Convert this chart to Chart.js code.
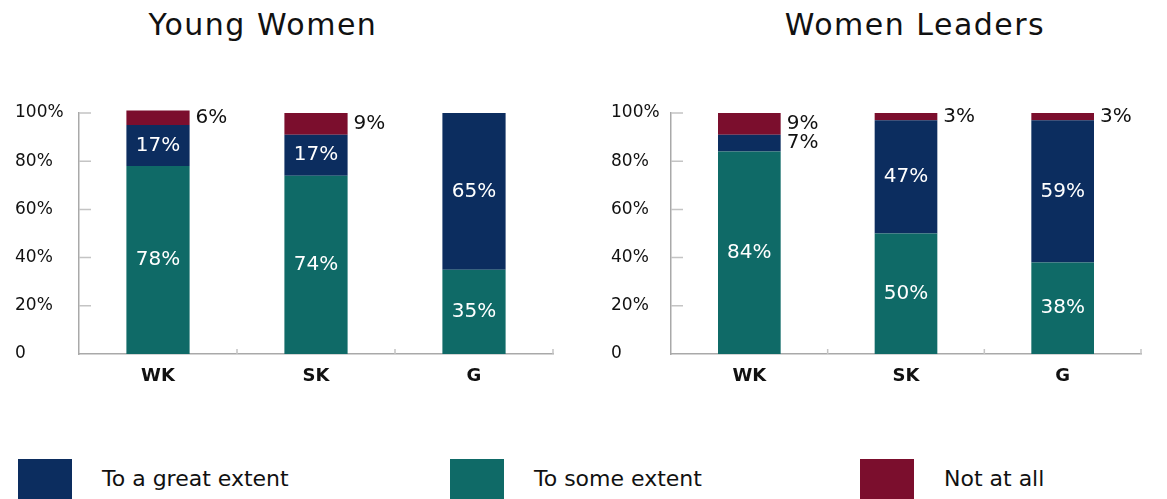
<!DOCTYPE html>
<html>
<head>
<meta charset="utf-8">
<script src="https://cdn.jsdelivr.net/npm/chart.js@4/dist/chart.umd.min.js"></script>
<style>
  html, body { margin: 0; padding: 0; background: #fff; }
  body { position: relative; width: 1167px; height: 499px; overflow: hidden;
         font-family: "DejaVu Sans", sans-serif; color: #111; }
  canvas { position: absolute; top: 0; }
  .title { position: absolute; top: 10px; font-size: 30px; line-height: 30px;
           letter-spacing: 1.5px; white-space: nowrap; transform: translateX(-50%); }
  .legend-item { position: absolute; top: 459px; height: 45px; display: flex; }
  .swatch { width: 54px; height: 45px; flex: none; }
  .legend-text { margin-left: 30px; margin-top: 9px; font-size: 22px; line-height: 22px; white-space: nowrap; }
</style>
</head>
<body>
<div class="title" style="left:263px">Young Women</div>
<div class="title" style="left:915px">Women Leaders</div>
<canvas id="young" width="580" height="420" style="left:0"></canvas>
<canvas id="leaders" width="571" height="420" style="left:596px"></canvas>
<div id="legend"></div>

<script>
// Survey answers, in percent, per group
const categories = ['WK', 'SK', 'G'];
const seriesNames = ['To a great extent', 'To some extent', 'Not at all'];
const seriesColors = ['#0c2d5f', '#0f6a67', '#7b0e2d'];

const youngGreat = [17, 17, 65];
const youngSome  = [78, 74, 35];
const youngNone  = [6, 9, 0];

const leadersGreat = [7, 47, 59];
const leadersSome  = [84, 50, 38];
const leadersNone  = [9, 3, 3];

const yTickValues = [0, 20, 40, 60, 80, 100];

const FONT = '"DejaVu Sans", sans-serif';

// Percent labels: inside the segment in white, or beside the bar for thin segments
const valueLabels = {
  id: 'valueLabels',
  afterDatasetsDraw(chart) {
    const ctx = chart.ctx;
    ctx.save();
    ctx.font = '20px ' + FONT;
    ctx.textBaseline = 'middle';
    chart.data.datasets.forEach((ds, di) => {
      const meta = chart.getDatasetMeta(di);
      meta.data.forEach((bar, i) => {
        const v = ds.data[i];
        if (!v) return;
        const yMid = (bar.y + bar.base) / 2;
        const txt = v + '%';
        if (v >= 10) {
          ctx.fillStyle = '#ffffff';
          ctx.textAlign = 'center';
          ctx.fillText(txt, bar.x, yMid);
        } else {
          ctx.fillStyle = '#111111';
          ctx.textAlign = 'left';
          ctx.fillText(txt, bar.x + bar.width / 2 + 6, yMid);
        }
      });
    });
    ctx.restore();
  }
};

// Short tick marks pointing into the plot area
const innerTicks = {
  id: 'innerTicks',
  afterDraw(chart) {
    const { ctx, chartArea: a, scales: { x, y } } = chart;
    ctx.save();
    ctx.strokeStyle = '#c4c4c4';
    ctx.lineWidth = 1.5;
    ctx.beginPath();
    y.ticks.forEach(t => {
      if (t.value === 0) return;
      const py = y.getPixelForValue(t.value);
      ctx.moveTo(a.left, py);
      ctx.lineTo(a.left + 12, py);
    });
    const n = x.ticks.length;
    for (let i = 1; i <= n; i++) {
      const px = i < n ? (x.getPixelForTick(i - 1) + x.getPixelForTick(i)) / 2 : a.right;
      ctx.moveTo(px, a.bottom);
      ctx.lineTo(px, a.bottom - 5);
    }
    ctx.stroke();
    ctx.restore();
  }
};

function makeChart(id, great, some, none, pad) {
  const ds = (label, data, color) => ({
    label, data, backgroundColor: color, borderWidth: 0,
    barPercentage: 0.4, categoryPercentage: 1, clip: false
  });
  return new Chart(document.getElementById(id), {
    type: 'bar',
    data: {
      labels: categories,
      datasets: [
        ds(seriesNames[1], some, seriesColors[1]),
        ds(seriesNames[0], great, seriesColors[0]),
        ds(seriesNames[2], none, seriesColors[2])
      ]
    },
    options: {
      responsive: false,
      animation: false,
      devicePixelRatio: 1,
      layout: { padding: pad },
      plugins: { legend: { display: false }, tooltip: { enabled: false } },
      scales: {
        x: {
          stacked: true,
          grid: { display: false, drawTicks: false },
          border: { color: '#a9a9a9', width: 1.5 },
          ticks: { color: '#111', padding: 12, font: { family: FONT, size: 18, weight: 'bold' } },
          afterFit(s) { s.height = 46; }
        },
        y: {
          stacked: true,
          min: 0, max: 100,
          grid: { display: false, drawTicks: false },
          border: { color: '#a9a9a9', width: 1.5 },
          afterBuildTicks(s) { s.ticks = yTickValues.map(v => ({ value: v })); },
          ticks: {
            color: '#111', crossAlign: 'far', padding: 10,
            font: { family: FONT, size: 17 },
            callback: v => v === 0 ? '0' : v + '%'
          },
          afterFit(s) { s.width = pad.yWidth; }
        }
      }
    },
    plugins: [valueLabels, innerTicks]
  });
}

makeChart('young', youngGreat, youngSome, youngNone,
  { left: 15, right: 27, top: 113, bottom: 20, yWidth: 64 });
makeChart('leaders', leadersGreat, leadersSome, leadersNone,
  { left: 15, right: 26, top: 113, bottom: 20, yWidth: 60 });

// Legend built from the series names and colours
const legendLeft = [18, 450, 860];
const legend = document.getElementById('legend');
[0, 1, 2].forEach(k => {
  const item = document.createElement('div');
  item.className = 'legend-item';
  item.style.left = legendLeft[k] + 'px';
  const sw = document.createElement('div');
  sw.className = 'swatch';
  sw.style.background = seriesColors[k];
  const tx = document.createElement('div');
  tx.className = 'legend-text';
  tx.textContent = seriesNames[k];
  item.appendChild(sw);
  item.appendChild(tx);
  legend.appendChild(item);
});
</script>
</body>
</html>
